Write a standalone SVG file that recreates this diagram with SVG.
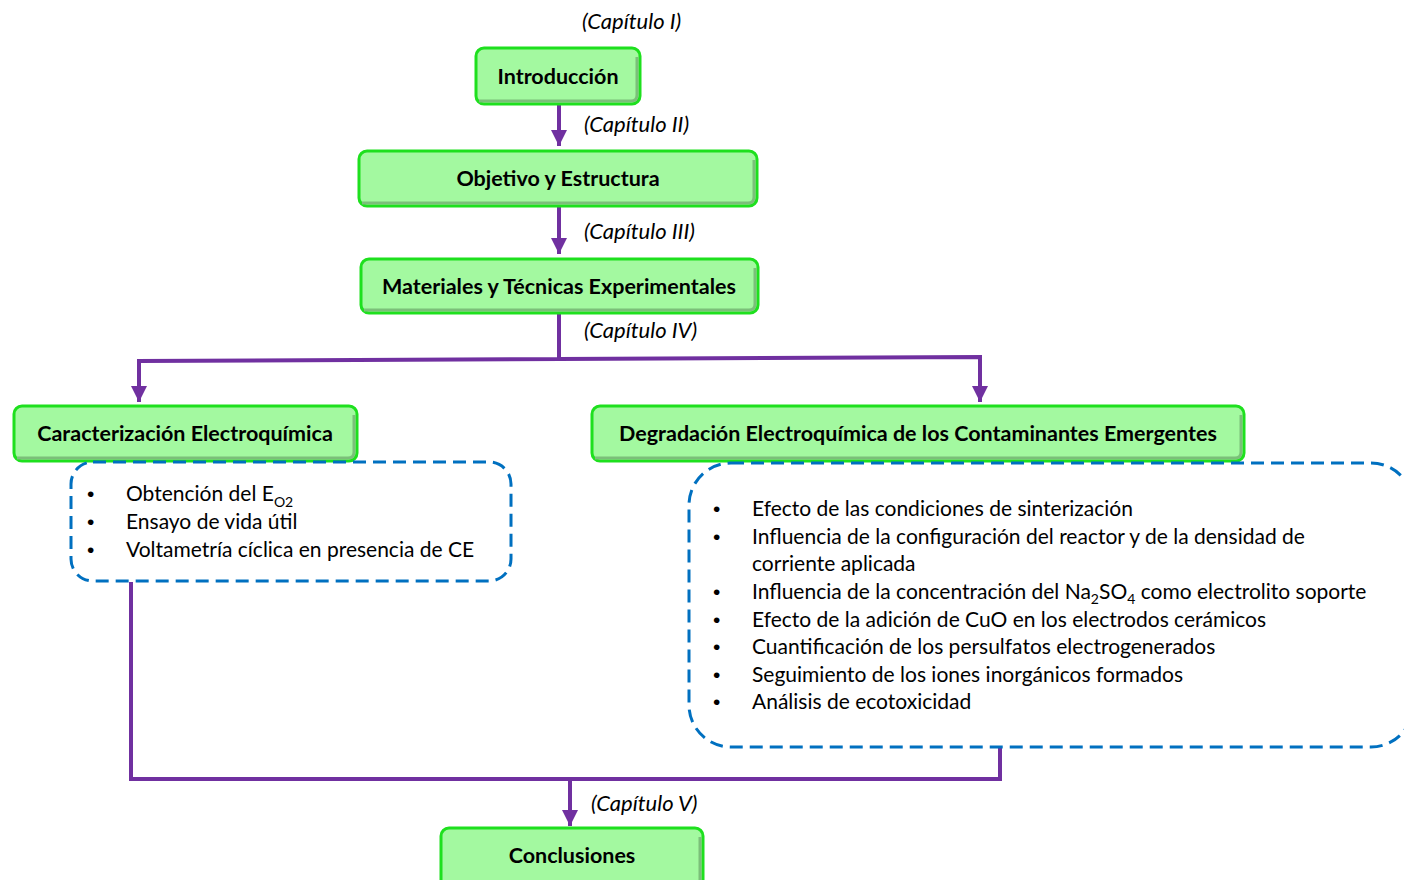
<svg xmlns="http://www.w3.org/2000/svg" width="1404" height="880" viewBox="0 0 1404 880">
<style>
.box{fill:#a3f9a0;stroke:#1ee01e;stroke-width:3}
.shade{fill:none;stroke:#7bbf79;stroke-width:3}
.bt{font-family:Lato,"Liberation Sans",sans-serif;font-weight:bold;font-size:21.5px;fill:#000;text-anchor:middle}
.cap{font-family:Lato,"Liberation Sans",sans-serif;font-style:italic;font-size:22px;fill:#000}
.li{font-family:Lato,"Liberation Sans",sans-serif;font-size:21px;fill:#000}
.bu{font-family:"Liberation Sans",sans-serif;font-size:21px;fill:#000}
.dash{fill:none;stroke:#0070c0;stroke-width:3;stroke-dasharray:13 7}
.con{fill:none;stroke:#7030a0;stroke-width:4}
</style>
<defs>
<marker id="ah" viewBox="0 0 10 10" refX="10" refY="5" markerWidth="4" markerHeight="4" orient="auto" markerUnits="strokeWidth">
<path d="M0,0 L10,5 L0,10 z" fill="#7030a0"/>
</marker>
</defs>
<rect width="1404" height="880" fill="#fff"/>
<g id="labels">
<text class="cap" x="582" y="29">(Capítulo I)</text>
<text class="cap" x="584" y="132">(Capítulo II)</text>
<text class="cap" x="584" y="239">(Capítulo III)</text>
<text class="cap" x="584" y="338">(Capítulo IV)</text>
<text class="cap" x="591" y="811">(Capítulo V)</text>
</g>
<g id="connectors">
<line class="con" x1="559" y1="104" x2="559" y2="146" marker-end="url(#ah)"/>
<line class="con" x1="559" y1="206" x2="559" y2="254" marker-end="url(#ah)"/>
<polyline class="con" points="559,313 559,359 139,361 139,402" marker-end="url(#ah)"/>
<polyline class="con" points="559,359 980,357 980,402" marker-end="url(#ah)"/>
<polyline class="con" points="131,582 131,779 1000,779 1000,747"/>
<line class="con" x1="570" y1="779" x2="570" y2="826" marker-end="url(#ah)"/>
</g>
<g id="n-intro">
<rect class="box" x="476" y="48" width="164" height="56" rx="8"/>
<path class="shade" d="M479,101 H631 Q637,101 637,95 V57"/>
<text class="bt" x="558" y="84">Introducción</text>
</g>
<g id="n-objetivo">
<rect class="box" x="359" y="151" width="398" height="55" rx="8"/>
<path class="shade" d="M362,203 H748 Q754,203 754,197 V160"/>
<text class="bt" x="558" y="186">Objetivo y Estructura</text>
</g>
<g id="n-materiales">
<rect class="box" x="361" y="259" width="397" height="54" rx="8"/>
<path class="shade" d="M364,310 H749 Q755,310 755,304 V268"/>
<text class="bt" x="559" y="294">Materiales y Técnicas Experimentales</text>
</g>
<g id="n-caract">
<rect class="box" x="14" y="406" width="343" height="55" rx="8"/>
<path class="shade" d="M17,458 H348 Q354,458 354,452 V415"/>
<text class="bt" x="185" y="441">Caracterización Electroquímica</text>
</g>
<g id="n-degrad">
<rect class="box" x="592" y="406" width="652" height="55" rx="8"/>
<path class="shade" d="M595,458 H1235 Q1241,458 1241,452 V415"/>
<text class="bt" x="918" y="441">Degradación Electroquímica de los Contaminantes Emergentes</text>
</g>
<g id="n-list-left">
<rect class="dash" x="71" y="462" width="440" height="119" rx="22"/>
<text class="bu" x="87" y="501">•</text>
<text class="li" x="126" y="501">Obtención del E<tspan font-size="14" dy="6">O2</tspan></text>
<text class="bu" x="87" y="529">•</text>
<text class="li" x="126" y="529">Ensayo de vida útil</text>
<text class="bu" x="87" y="557">•</text>
<text class="li" x="126" y="557">Voltametría cíclica en presencia de CE</text>
</g>
<g id="n-list-right">
<rect class="dash" x="689" y="463" width="724" height="284" rx="42"/>
<text class="bu" x="713" y="516">•</text>
<text class="li" x="752" y="516">Efecto de las condiciones de sinterización</text>
<text class="bu" x="713" y="544">•</text>
<text class="li" x="752" y="544">Influencia de la configuración del reactor y de la densidad de</text>
<text class="li" x="752" y="571">corriente aplicada</text>
<text class="bu" x="713" y="599">•</text>
<text class="li" x="752" y="599">Influencia de la concentración del Na<tspan font-size="14" dy="5">2</tspan><tspan dy="-5">SO</tspan><tspan font-size="14" dy="5">4</tspan><tspan dy="-5"> como electrolito soporte</tspan></text>
<text class="bu" x="713" y="627">•</text>
<text class="li" x="752" y="627">Efecto de la adición de CuO en los electrodos cerámicos</text>
<text class="bu" x="713" y="654">•</text>
<text class="li" x="752" y="654">Cuantificación de los persulfatos electrogenerados</text>
<text class="bu" x="713" y="682">•</text>
<text class="li" x="752" y="682">Seguimiento de los iones inorgánicos formados</text>
<text class="bu" x="713" y="709">•</text>
<text class="li" x="752" y="709">Análisis de ecotoxicidad</text>
</g>
<g id="n-concl">
<rect class="box" x="441" y="828" width="262" height="60" rx="8"/>
<path class="shade" d="M700,837 V885"/>
<text class="bt" x="572" y="863">Conclusiones</text>
</g>
</svg>
